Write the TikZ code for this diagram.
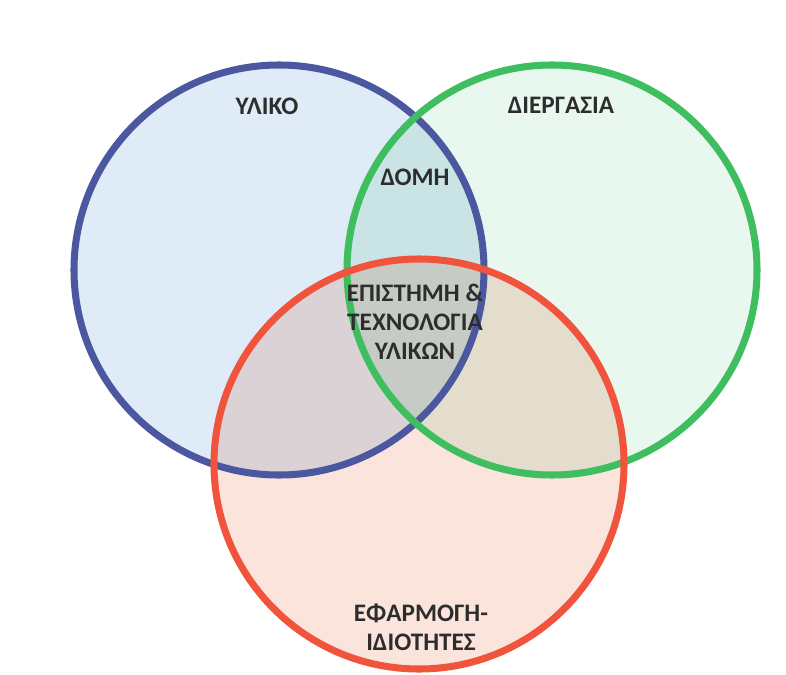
\documentclass[tikz,border=0pt]{standalone}
\usepackage{fontspec}
\newfontfamily\calibri{Carlito}
\usepackage{tikz}
\usetikzlibrary{positioning}
\definecolor{ylikoline}{RGB}{75,88,160}
\definecolor{ylikofill}{RGB}{223,235,247}
\definecolor{diergline}{RGB}{62,190,95}
\definecolor{diergfill}{RGB}{232,248,238}
\definecolor{efarmline}{RGB}{240,84,60}
\definecolor{efarmfill}{RGB}{251,228,220}
\definecolor{textgrey}{RGB}{45,45,45}
\tikzset{
	venn/.style = {circle, minimum size = 12.3cm, inner sep = 0pt},
	rim/.style = {venn, line width = 6pt},
	lbl/.style = {font = \calibri\bfseries\fontsize{21.5}{24.5}\selectfont,
	 text = textgrey, align = center, inner sep = 0pt},
}
\begin{document}
\begin{tikzpicture}[x = 0.03cm, y = -0.03cm]
	\useasboundingbox [fill = white] (0,0) rectangle (786,675);
	% fills
	\begin{scope}[blend group = multiply]
		\node (Yliko) [venn, fill = ylikofill] at (279,270) {};
		\node (Diergasia) [venn, fill = diergfill] at (552,270) {};
		\node (Efarmogi) [venn, fill = efarmfill] at (419,464) {};
	\end{scope}
	% rims
	\node [rim, draw = ylikoline] at (Yliko) {};
	\node [rim, draw = diergline] at (Diergasia) {};
	\node [rim, draw = efarmline] at (Efarmogi) {};
	% labels
	\node (YlikoText) [lbl] at (267,106) {ΥΛΙΚΟ};
	\node (DiergText) [lbl] at (561,105) {ΔΙΕΡΓΑΣΙΑ};
	\node (DomiText) [lbl] at (415,177) {ΔΟΜΗ};
	\node (EpistText) [lbl] at (415,322) {ΕΠΙΣΤΗΜΗ \&\\ ΤΕΧΝΟΛΟΓΙΑ\\ ΥΛΙΚΩΝ};
	\node (EfarmText) [lbl] at (421,627) {ΕΦΑΡΜΟΓΗ-\\ ΙΔΙΟΤΗΤΕΣ};
\end{tikzpicture}
\end{document}
